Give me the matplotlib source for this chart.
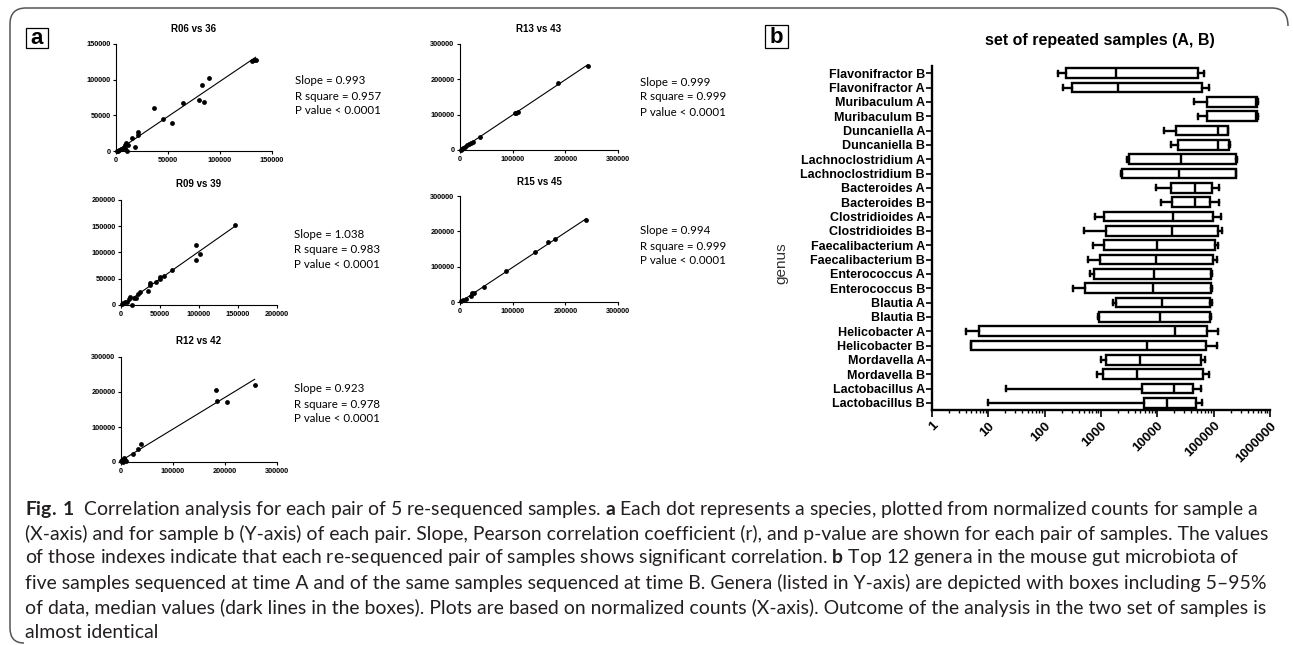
import numpy as np
import matplotlib.pyplot as plt
from matplotlib.path import Path
from matplotlib.patches import PathPatch, Rectangle
from matplotlib.ticker import LogLocator, NullFormatter

W, H = 1293, 645
ARIAL = "Liberation Sans"
HUMAN = "Lato"

plt.rcParams["mathtext.fontset"] = "custom"
plt.rcParams["mathtext.rm"] = HUMAN
plt.rcParams["mathtext.bf"] = HUMAN + ":bold"

# ---- panel a: pairs of re-sequenced samples (normalized counts) ----
r06_x = [134200, 132500, 131000, 89000, 82600, 84800, 79400, 64800, 36800, 45200, 54200,
         21600, 21000, 15800, 18100, 9700, 8400, 9000, 11000, 5800, 3200, 1000, 2000,
         6500, 12000, 4500]
r06_y = [127200, 127200, 126500, 102900, 93200, 68000, 70900, 67000, 60700, 45100, 38800,
         26200, 22800, 18400, 5800, 11700, 8700, 4900, 0, 2400, 1000, 0, 500,
         4000, 9000, 3000]

r09_x = [146600, 96200, 101300, 95700, 65000, 55600, 50400, 49600, 45300, 37600, 36800,
         34200, 24800, 22200, 16700, 11100, 14100, 9800, 5600, 2600, 900, 19000, 7500]
r09_y = [153200, 113900, 96800, 84800, 65800, 54400, 53200, 49400, 43000, 41800, 38000,
         25900, 24000, 21500, 13900, 14600, 0, 10800, 6300, 3200, 1300, 13000, 5000]

r12_x = [257000, 183300, 185300, 204500, 38500, 33300, 22400, 5100, 2600, 8300, 500,
         3800, 10000, 6500]
r12_y = [220200, 206700, 175000, 170200, 51000, 36500, 24000, 11500, 6700, 4800, 2900,
         0, 3000, 8000]

r13_x = [242200, 186900, 104000, 107000, 110000, 37500, 24800, 21000, 17500, 13000,
         9500, 6500, 3000, 1000]
r13_y = [237700, 190600, 103500, 106000, 108500, 37700, 23600, 21000, 17000, 13500,
         9000, 6000, 3000, 500]

r15_x = [239700, 180500, 166600, 142400, 86500, 45100, 26700, 23500, 20000, 11000, 6000, 2500]
r15_y = [231800, 176900, 168400, 141000, 87000, 42600, 25500, 24500, 17500, 9000, 5000, 1500]

pair_titles = ["R06 vs 36", "R09 vs 39", "R12 vs 42", "R13 vs 43", "R15 vs 45"]
pair_slopes = ["0.993", "1.038", "0.923", "0.999", "0.994"]
pair_rsq = ["0.957", "0.983", "0.978", "0.999", "0.999"]
pair_lims = [150000, 200000, 300000, 300000, 300000]
pair_steps = [50000, 50000, 100000, 100000, 100000]

# ---- panel b: top genera, sample sets A and B ----
genus_labels = ["Flavonifractor B", "Flavonifractor A", "Muribaculum A", "Muribaculum B",
                "Duncaniella A", "Duncaniella B", "Lachnoclostridium A", "Lachnoclostridium B",
                "Bacteroides A", "Bacteroides B", "Clostridioides A", "Clostridioides B",
                "Faecalibacterium A", "Faecalibacterium B", "Enterococcus A", "Enterococcus B",
                "Blautia A", "Blautia B", "Helicobacter A", "Helicobacter B",
                "Mordavella A", "Mordavella B", "Lactobacillus A", "Lactobacillus B"]
whis_lo = [170, 209, 45300, 53500, 13300, 17700, 2870, 2270, 9370, 11700, 780, 500,
           730, 595, 645, 322, 1650, 875, 3.97, 4.9, 985, 840, 20.3, 9.8]
box_q1 = [240, 302, 75000, 77000, 21200, 23000, 3080, 2360, 17300, 18500, 1130, 1210,
          1130, 960, 760, 520, 1820, 920, 6.9, 4.9, 1230, 1100, 5420, 5870]
box_med = [1860, 1990, 560000, 565000, 121000, 121000, 26300, 24200, 46600, 45800, 19200, 18500,
           9730, 9500, 8650, 8260, 12300, 11100, 20600, 6650, 4920, 4300, 19800, 14700]
box_q3 = [53500, 61500, 577000, 580000, 178000, 190000, 250000, 246000, 95000, 86600, 99000, 121000,
          106000, 99000, 89800, 88500, 86600, 86600, 75000, 72000, 58600, 64000, 43600, 48000]
whis_hi = [68000, 83900, 600000, 605000, 182000, 194000, 256000, 252000, 126000, 126000, 135000, 142000,
           118000, 113000, 95000, 93000, 92000, 90000, 118000, 116000, 70300, 81000, 59700, 61500]
log_ticks = [1, 10, 100, 1000, 10000, 100000, 1000000]

caption_lines = [
    r"$\mathbf{Fig.\,1}$  Correlation analysis for each pair of 5 re-sequenced samples. "
    r"$\mathbf{a}$ Each dot represents a species, plotted from normalized counts for sample a",
    "(X-axis) and for sample b (Y-axis) of each pair. Slope, Pearson correlation coefficient (r), "
    "and p-value are shown for each pair of samples. The values",
    r"of those indexes indicate that each re-sequenced pair of samples shows significant correlation. "
    r"$\mathbf{b}$ Top 12 genera in the mouse gut microbiota of",
    "five samples sequenced at time A and of the same samples sequenced at time B. Genera (listed in "
    "Y-axis) are depicted with boxes including 5–95%",
    "of data, median values (dark lines in the boxes). Plots are based on normalized counts (X-axis). "
    "Outcome of the analysis in the two set of samples is",
    "almost identical",
]


def fx(x):
    return x / W


def fy(y):
    return 1 - y / H


def axes_px(fig, left, top, right, bottom):
    return fig.add_axes([fx(left), fy(bottom), (right - left) / W, (bottom - top) / H])


def scatter_panel(fig, box, xs, ys, lim, step, title, slope, rsq, title_y, text_x, text_y):
    left, top, right, bottom = box
    ax = axes_px(fig, left, top, right, bottom)
    ax.scatter(xs, ys, s=12, c="black", linewidths=0, clip_on=False, zorder=3)
    k, b = np.polyfit(xs, ys, 1)
    xl = np.array([min(xs), max(xs)])
    ax.plot(xl, k * xl + b, color="black", lw=0.8, clip_on=False)
    ax.set_xlim(0, lim)
    ax.set_ylim(0, lim)
    ticks = np.arange(0, lim + 1, step)
    ax.set_xticks(ticks, [str(int(t)) for t in ticks])
    ax.set_yticks(ticks, [str(int(t)) for t in ticks])
    for s in ["top", "right"]:
        ax.spines[s].set_visible(False)
    for s in ["left", "bottom"]:
        ax.spines[s].set_linewidth(0.8)
    ax.tick_params(length=2.5, width=0.8, labelsize=5.3, pad=1.5)
    for lab in ax.get_xticklabels() + ax.get_yticklabels():
        lab.set_fontweight("bold")
        lab.set_family(ARIAL)
    fig.text(fx((left + right) / 2), fy(title_y), title, ha="center", va="center",
             fontsize=7, fontweight="bold", family=ARIAL)
    for i, s in enumerate([f"Slope = {slope}", f"R square = {rsq}", "P value < 0.0001"]):
        fig.text(fx(text_x), fy(text_y + 15 * i), s, ha="left", va="center",
                 fontsize=8.3, family=HUMAN)


fig = plt.figure(figsize=(W / 100, H / 100), dpi=100)

# outer frame (open rounded border)
verts = [(1288, 26), (1288, 8), (1272, 8), (26, 8), (10, 8), (10, 24),
         (10, 628), (10, 643), (24, 643)]
codes = [Path.MOVETO, Path.CURVE3, Path.CURVE3, Path.LINETO, Path.CURVE3, Path.CURVE3,
         Path.LINETO, Path.CURVE3, Path.CURVE3]
frame = Path([(fx(x), fy(y)) for x, y in verts], codes)
fig.patches.append(PathPatch(frame, transform=fig.transFigure, fc="none", ec="#555555", lw=1.1))

# panel letters
for letter, (x0, y0, x1, y1) in [("a", (26, 28, 48, 48)), ("b", (765, 25, 788, 48))]:
    fig.patches.append(Rectangle((fx(x0), fy(y1)), (x1 - x0) / W, (y1 - y0) / H,
                                 transform=fig.transFigure, fc="white", ec="black", lw=0.9))
    fig.text(fx((x0 + x1) / 2), fy((y0 + y1) / 2 + 1), letter, ha="center", va="center",
             fontsize=16, fontweight="bold", family=ARIAL)

pairs = [(r06_x, r06_y), (r09_x, r09_y), (r12_x, r12_y), (r13_x, r13_y), (r15_x, r15_y)]
boxes = [(116, 44, 272, 151), (121, 200, 277, 305), (121, 357, 277, 462),
         (460, 44, 618, 150), (460, 196, 618, 302)]
title_ys = [29, 184, 341, 29, 182]
text_pos = [(295, 81), (294, 234), (294, 389), (640, 82), (640, 231)]
for i, (xs, ys) in enumerate(pairs):
    scatter_panel(fig, boxes[i], xs, ys, pair_lims[i], pair_steps[i], pair_titles[i],
                  pair_slopes[i], pair_rsq[i], title_ys[i], text_pos[i][0], text_pos[i][1])

# ---- panel b ----
axb = axes_px(fig, 932, 66, 1270, 410)
axb.set_xscale("log")
stats = []
for i in range(len(genus_labels)):
    stats.append(dict(whislo=whis_lo[i], q1=box_q1[i], med=box_med[i], q3=box_q3[i],
                      whishi=whis_hi[i], fliers=[]))
pos = np.arange(len(genus_labels))
lw = 1.7
axb.bxp(stats, positions=pos, widths=0.68, capwidths=0.36, orientation="horizontal",
        patch_artist=True, showfliers=False,
        boxprops=dict(facecolor="white", edgecolor="black", linewidth=lw),
        medianprops=dict(color="black", linewidth=lw, solid_capstyle="butt"),
        whiskerprops=dict(color="black", linewidth=lw),
        capprops=dict(color="black", linewidth=lw))
axb.set_xlim(1, 1e6)
axb.set_ylim(len(genus_labels) - 0.5, -0.5)
axb.set_yticks(pos, genus_labels)
axb.set_xticks(log_ticks, [str(t) for t in log_ticks])
axb.xaxis.set_minor_locator(LogLocator(base=10, subs=np.arange(2, 10)))
axb.xaxis.set_minor_formatter(NullFormatter())
for s in ["top", "right"]:
    axb.spines[s].set_visible(False)
for s in ["left", "bottom"]:
    axb.spines[s].set_linewidth(lw)
axb.tick_params(axis="y", length=4, width=1.2, labelsize=9, pad=1)
axb.tick_params(axis="x", which="major", length=5, width=1.2, labelsize=9.5, pad=2)
axb.tick_params(axis="x", which="minor", length=2.5, width=1.0)
for lab in axb.get_yticklabels():
    lab.set_fontweight("bold")
    lab.set_family(ARIAL)
for lab in axb.get_xticklabels():
    lab.set_fontweight("bold")
    lab.set_family(ARIAL)
    lab.set_rotation(45)
    lab.set_ha("right")
    lab.set_va("top")
    lab.set_rotation_mode("anchor")
fig.text(fx(1100), fy(40), "set of repeated samples (A, B)", ha="center", va="center",
         fontsize=11.5, fontweight="bold", family=ARIAL)
fig.text(fx(781), fy(263), "genus", ha="center", va="center", rotation=90,
         fontsize=11, family=ARIAL, color="#333333")

# ---- caption ----
cap_y = [509, 534, 558, 583, 608, 632]
cap_texts = []
for s, y in zip(caption_lines, cap_y):
    cap_texts.append(fig.text(fx(25), fy(y), s, ha="left", va="center", fontsize=12,
                              family=HUMAN, color="#231f20"))
renderer = fig.canvas.get_renderer()
w0 = cap_texts[0].get_window_extent(renderer).width
scale = 1230 / w0
for t in cap_texts:
    t.set_fontsize(12 * scale)

fig.savefig("out.png", dpi=100)
